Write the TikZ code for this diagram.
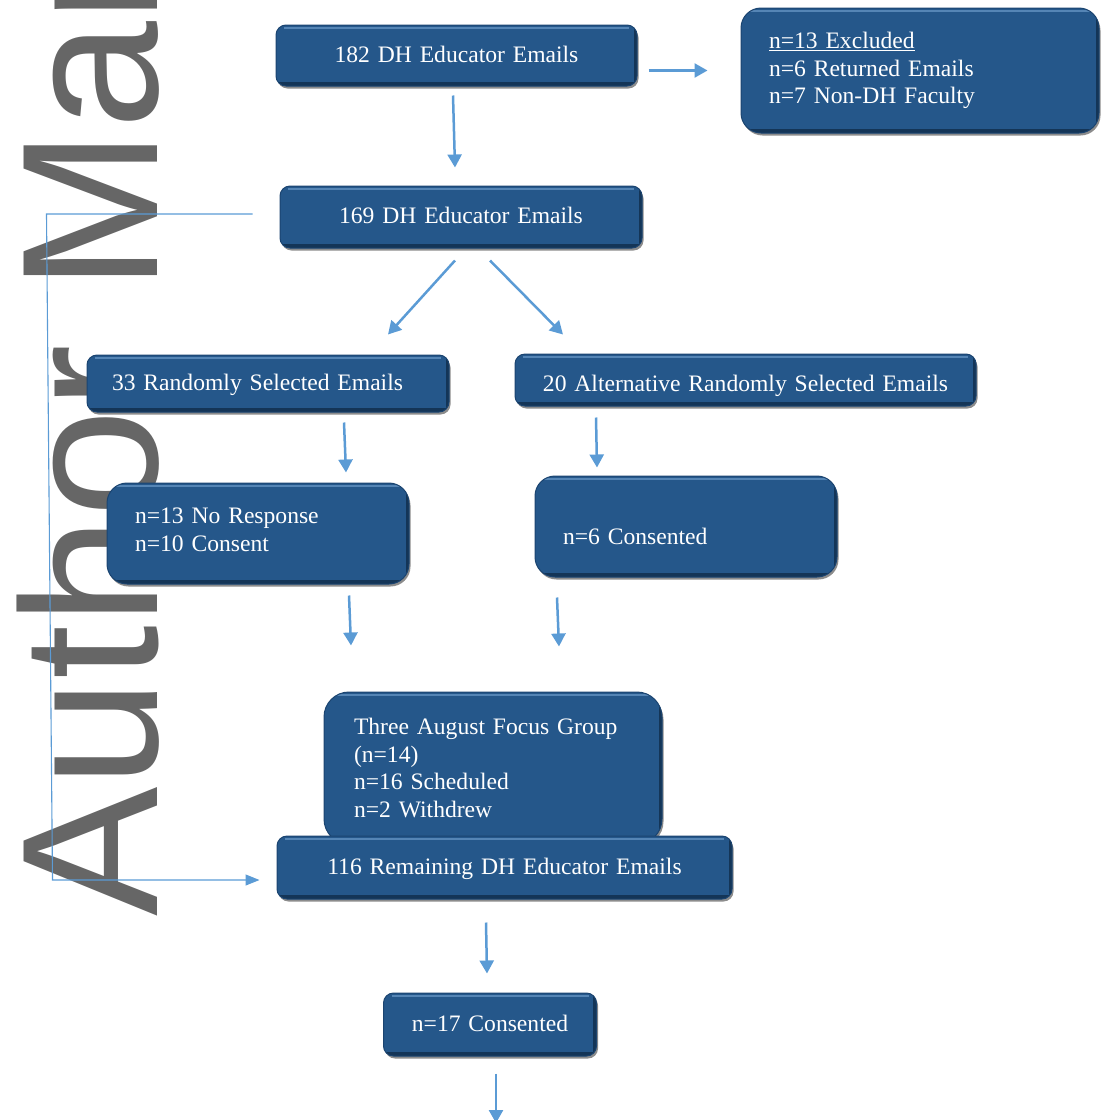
\documentclass[tikz,border=0pt]{standalone}
\usepackage{fontspec}
\setmainfont{Liberation Serif}
\newfontfamily\wmfont{Liberation Sans}
\usetikzlibrary{arrows.meta,shadows,calc}
\definecolor{boxblue}{HTML}{25578A}
\definecolor{boxrim}{HTML}{1B4470}
\definecolor{boxhi}{HTML}{5585B5}
\definecolor{boxlow}{HTML}{143557}
\definecolor{arrowblue}{HTML}{5B9BD5}
\definecolor{wmgray}{HTML}{666666}
\begin{document}
\begin{tikzpicture}[x=1pt,y=-1pt,
  box/.style={draw=boxrim, line width=1pt, fill=boxblue, text=white,
    font=\fontsize{23.6}{27.6}\selectfont, rounded corners=#1, inner ysep=0pt,
    drop shadow={shadow xshift=1.5pt, shadow yshift=-2.5pt, opacity=0.45, fill=black},
    path picture={
      \draw[boxhi, line width=2.5pt] ([shift={(8,3)}]path picture bounding box.north west) -- ([shift={(-8,3)}]path picture bounding box.north east);
      \draw[boxlow, line width=3.5pt] ([shift={(0,-2)}]path picture bounding box.south west) -- ([shift={(0,-2)}]path picture bounding box.south east);
      \draw[boxlow, line width=3pt] ([shift={(-2,0)}]path picture bounding box.north east) -- ([shift={(-2,0)}]path picture bounding box.south east);
    }},
  box/.default=10pt,
  oneline/.style={text height=18pt, text depth=5pt},
  arr/.style={arrowblue, line width=2.5pt, -{Triangle[length=13pt,width=14pt]}},
  thinarr/.style={arrowblue, line width=1.1pt, -{Triangle[length=14pt,width=11pt]}},
  wm/.style={text=wmgray, font=\wmfont\fontsize{194}{200}\selectfont, inner sep=0pt}
]
\useasboundingbox (0,0) rectangle (1101,1120);

% watermark
\begin{scope}
  \clip (0,0) rectangle (1101,1120);
  \node[wm, rotate=90, anchor=base west] (wmark) at (157,917) {Author Manuscript};
\end{scope}

% boxes
\node[box, oneline, minimum height=61pt, inner xsep=10pt, text width=341pt, align=center]
  (b182) at (456.5,55.5) {182 DH Educator Emails};
\node[box=20pt, minimum height=125pt, inner xsep=28pt, text width=302pt, align=left]
  (excl) at (920,70.5) {\underline{n=13 Excluded}\\n=6 Returned Emails\\n=7 Non-DH Faculty};
\node[box, oneline, minimum height=62pt, inner xsep=10pt, text width=342pt, align=center]
  (b169) at (461,217) {169 DH Educator Emails};
\node[box, oneline, minimum height=57pt, inner xsep=25pt, text width=312pt, align=left]
  (b33) at (268,383.5) {33 Randomly Selected Emails};
\node[box, text height=27pt, text depth=5pt, minimum height=52pt, inner xsep=10pt, text width=441pt, align=center]
  (b20) at (745.5,380) {20 Alternative Randomly Selected Emails};
\node[box=20pt, minimum height=101pt, inner xsep=28pt, text width=246pt, align=left]
  (noresp) at (258,533.5) {n=13 No Response\\n=10 Consent\\[-19.6pt]\mbox{}};
\node[box=20pt, text height=41pt, text depth=6pt, minimum height=101pt, inner xsep=28pt, text width=246pt, align=left]
  (n6) at (686,526.5) {n=6 Consented};
\node[box=25pt, minimum height=152pt, inner xsep=30pt, text width=278pt, align=left]
  (focus) at (493,768) {Three August Focus Group\\(n=14)\\n=16 Scheduled\\n=2 Withdrew};
\node[box, oneline, minimum height=63pt, inner xsep=10pt, text width=435pt, align=center]
  (b116) at (504.5,867.5) {116 Remaining DH Educator Emails};
\node[box, oneline, minimum height=63pt, inner xsep=10pt, text width=193pt, align=center]
  (n17) at (490,1024.5) {n=17 Consented};
\coordinate (bottomend) at (496,1123);

% connectors
\draw[arr] ([xshift=11pt]b182.east |- excl.west) -- ([shift={(-33,0)}]excl.west);
\draw[arr] ([shift={(-3.5,9)}]b182.south) -- ([shift={(-6,-18)}]b169.north);
\draw[arr] ([shift={(-6,12)}]b169.south) -- ([shift={(120,-20)}]b33.north);
\draw[arr] ([shift={(29,12)}]b169.south) -- ([shift={(-182.5,-19)}]b20.north);
\draw[arr] ([shift={(76,10)}]b33.south) -- ([shift={(88,-10)}]noresp.north);
\draw[arr] ([shift={(-149.5,11)}]b20.south) -- ([shift={(-89,-8)}]n6.north);
\draw[arr] ([shift={(91,11)}]noresp.south) -- ([shift={(-142,-46)}]focus.north);
\draw[arr] ([shift={(-129,20)}]n6.south) -- ([shift={(66,-45)}]focus.north);
\draw[arr] ([shift={(-18.5,23)}]b116.south) -- ([shift={(-3,-19)}]n17.north);
\draw[arr] ([shift={(6,17)}]n17.south) -- (bottomend);
\draw[thinarr] ([shift={(-27,-3)}]b169.west) -- ++(-206,0) -- ++(6,666)
  -- ([shift={(-17,12.5)}]b116.west);
\end{tikzpicture}
\end{document}
